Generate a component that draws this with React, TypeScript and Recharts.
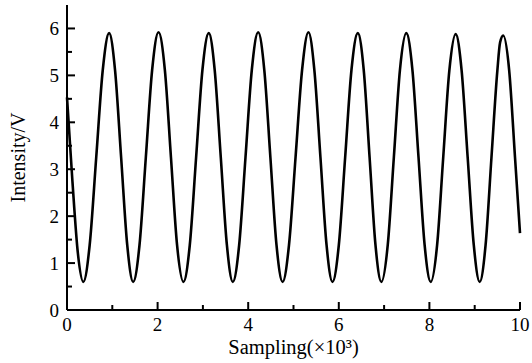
import React from "react";
import { LineChart, Line, XAxis, YAxis, Label } from "recharts";

// Sampling (×10³) positions and intensity (V) values
const samplingX = [
  0.0, 0.12, 0.24, 0.36,
  0.5, 0.645, 0.79, 0.93,
  1.06, 1.195, 1.33, 1.46,
  1.6, 1.74, 1.88, 2.02,
  2.16, 2.295, 2.43, 2.57,
  2.71, 2.85, 2.99, 3.13,
  3.26, 3.395, 3.53, 3.66,
  3.8, 3.94, 4.08, 4.22,
  4.355, 4.49, 4.625, 4.76,
  4.9, 5.045, 5.19, 5.33,
  5.46, 5.595, 5.73, 5.86,
  6.0, 6.14, 6.28, 6.42,
  6.55, 6.68, 6.81, 6.94,
  7.08, 7.215, 7.35, 7.49,
  7.625, 7.76, 7.895, 8.03,
  8.17, 8.305, 8.44, 8.58,
  8.71, 8.845, 8.98, 9.11,
  9.24, 9.37, 9.5, 9.56, 9.63,
  9.76, 9.89, 10.0,
];
const intensity = [
  4.53, 2.74, 1.21, 0.6,
  1.38, 3.25, 5.12, 5.9,
  5.12, 3.25, 1.38, 0.6,
  1.38, 3.25, 5.12, 5.92,
  5.12, 3.25, 1.38, 0.6,
  1.38, 3.25, 5.12, 5.9,
  5.12, 3.25, 1.38, 0.6,
  1.38, 3.25, 5.12, 5.92,
  5.12, 3.25, 1.38, 0.6,
  1.38, 3.25, 5.12, 5.92,
  5.12, 3.25, 1.38, 0.6,
  1.38, 3.25, 5.12, 5.9,
  5.12, 3.25, 1.38, 0.6,
  1.38, 3.25, 5.12, 5.9,
  5.12, 3.25, 1.38, 0.6,
  1.38, 3.25, 5.1, 5.88,
  5.12, 3.25, 1.38, 0.6,
  1.38, 3.25, 5.1, 5.7, 5.85,
  5.12, 3.25, 1.64,
];

const xTicks = [0, 1, 2, 3, 4, 5, 6, 7, 8, 9, 10];
const xLabels = ["0", "", "2", "", "4", "", "6", "", "8", "", "10"];
const yTicks = [0, 0.5, 1, 1.5, 2, 2.5, 3, 3.5, 4, 4.5, 5, 5.5, 6];
const yLabels = ["0", "", "1", "", "2", "", "3", "", "4", "", "5", "", "6"];

const data = samplingX.map((x, i) => ({ x, v: intensity[i] }));

const FONT = "Liberation Serif";
const Y_MARGIN = 8;

const YTick = (props: any) => {
  const { x, y, payload } = props;
  const label = yLabels[yTicks.indexOf(payload.value)] ?? "";
  const axisX = x + Y_MARGIN;
  const len = label ? 8 : 5;
  return (
    <g>
      <line x1={axisX} x2={axisX + len} y1={y} y2={y} stroke="#000" strokeWidth={2} />
      {label && (
        <text x={x} y={y} dy="0.36em" textAnchor="end" style={{ fontFamily: FONT, fontSize: 19 }} fill="#000">
          {label}
        </text>
      )}
    </g>
  );
};

const XTick = (props: any) => {
  const { x, y, payload } = props;
  const label = xLabels[xTicks.indexOf(payload.value)] ?? "";
  const len = label ? 8 : 5;
  return (
    <g>
      <line x1={x} x2={x} y1={y} y2={y - len} stroke="#000" strokeWidth={2} />
      {label && (
        <text x={x} y={y + 21} textAnchor="middle" style={{ fontFamily: FONT, fontSize: 19 }} fill="#000">
          {label}
        </text>
      )}
    </g>
  );
};

export default function App() {
  return (
    <div style={{ position: "absolute", left: 0, top: 0, width: 532, height: 363, background: "#fff" }}>
      <LineChart width={532} height={363} data={data} margin={{ top: 5, right: 12, bottom: 0, left: 0 }}>
        <XAxis
          dataKey="x"
          type="number"
          domain={[0, 10]}
          ticks={xTicks}
          interval={0}
          height={53}
          tickSize={0}
          tickMargin={0}
          tickLine={false}
          axisLine={{ stroke: "#000", strokeWidth: 2 }}
          tick={<XTick />}
        >
          <Label
            value="Sampling(×10³)"
            position="insideBottom"
            offset={9}
            style={{ fontFamily: FONT, fontSize: 20.5, fill: "#000" }}
          />
        </XAxis>
        <YAxis
          type="number"
          domain={[0, 6.5]}
          ticks={yTicks}
          interval={0}
          width={67}
          tickSize={0}
          tickMargin={Y_MARGIN}
          tickLine={false}
          axisLine={{ stroke: "#000", strokeWidth: 2 }}
          tick={<YTick />}
        >
          <Label
            value="Intensity/V"
            angle={-90}
            position="insideLeft"
            offset={18}
            style={{ fontFamily: FONT, fontSize: 20, fill: "#000", textAnchor: "middle" }}
          />
        </YAxis>
        <Line
          dataKey="v"
          type="monotone"
          stroke="#000"
          strokeWidth={2.6}
          dot={false}
          isAnimationActive={false}
        />
      </LineChart>
    </div>
  );
}
